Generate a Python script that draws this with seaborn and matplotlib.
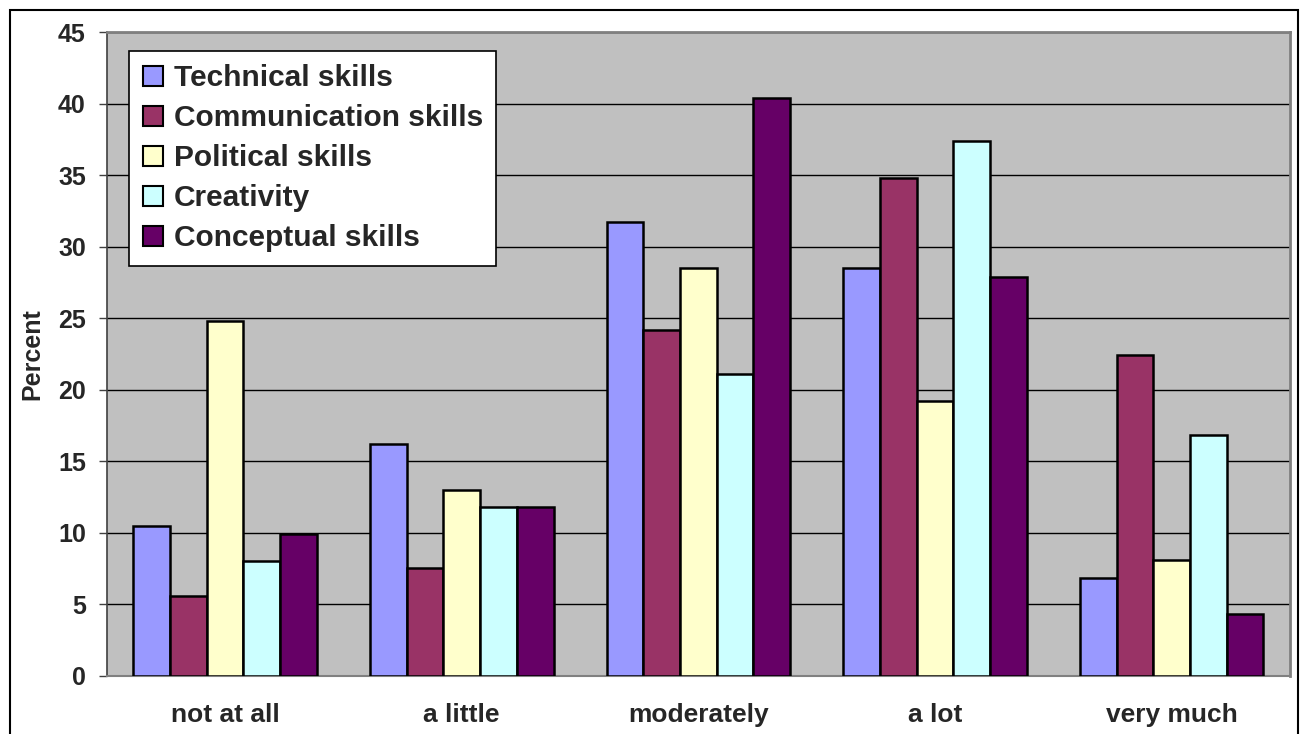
import numpy as np
import pandas as pd
import matplotlib
matplotlib.use("Agg")
import matplotlib.pyplot as plt
import matplotlib.patches as mpatches
import seaborn as sns

categories = ["not at all", "a little", "moderately", "a lot", "very much"]
skills = ["Technical skills", "Communication skills", "Political skills", "Creativity", "Conceptual skills"]
technical = [10.5, 16.2, 31.7, 28.5, 6.8]
communication = [5.6, 7.5, 24.2, 34.8, 22.4]
political = [24.8, 13.0, 28.5, 19.2, 8.1]
creativity = [8.0, 11.8, 21.1, 37.4, 16.8]
conceptual = [9.9, 11.8, 40.4, 27.9, 4.3]
colors = ["#9999FF", "#993366", "#FFFFCC", "#CCFFFF", "#660066"]
yticks = [0, 5, 10, 15, 20, 25, 30, 35, 40, 45]

series = [technical, communication, political, creativity, conceptual]
rows = []
for s, vals in zip(skills, series):
    for c, v in zip(categories, vals):
        rows.append({"category": c, "skill": s, "value": v})
df = pd.DataFrame(rows)

sns.set_theme(style="white")
plt.rcParams["font.family"] = ["Liberation Sans", "DejaVu Sans"]
plt.rcParams["font.weight"] = "bold"

W, H = 1303, 734
fig = plt.figure(figsize=(W / 100, H / 100), dpi=100)
fig.patch.set_facecolor("white")
ax = fig.add_axes([106.7 / W, (H - 675.7) / H, (1290 - 106.7) / W, (675.7 - 32.3) / H])
ax.set_facecolor("#C0C0C0")

sns.barplot(data=df, x="category", y="value", hue="skill", order=categories,
            hue_order=skills, palette=colors, edgecolor="black", linewidth=1.8,
            width=0.776, saturation=1, ax=ax, zorder=3, legend=True)

ax.set_xlim(-0.5, 4.5)
ax.set_ylim(0, 45)
ax.set_yticks(yticks)
ax.set_yticklabels([str(t) for t in yticks], fontsize=18, fontweight="bold")
ax.set_xticks(range(len(categories)))
ax.set_xticklabels(categories, fontsize=19, fontweight="bold")
ax.set_xticks(np.arange(-0.5, 5.0, 1.0), minor=True)
ax.tick_params(axis="x", which="major", length=0, pad=20)
ax.tick_params(axis="x", which="minor", length=6, width=1, color="#404040", direction="out")
ax.tick_params(axis="y", which="major", length=6, width=1, color="#404040", direction="out", pad=9, left=True)
ax.yaxis.grid(True, color="black", linewidth=1.0, zorder=0)
ax.set_axisbelow(True)
ax.set_xlabel("")
ax.set_ylabel("Percent", fontsize=18, fontweight="bold", labelpad=10)

for side in ["top", "right"]:
    ax.spines[side].set_visible(True)
    ax.spines[side].set_color("#808080")
    ax.spines[side].set_linewidth(2)
ax.spines["left"].set_color("#404040")
ax.spines["left"].set_linewidth(1.2)
ax.spines["bottom"].set_color("#808080")
ax.spines["bottom"].set_linewidth(1.5)

leg = ax.legend(loc="upper left", bbox_to_anchor=((129.3 - 106.7) / (1290 - 106.7), (675.7 - 51) / (675.7 - 32.3)),
                frameon=True, fancybox=False, edgecolor="black", facecolor="white", framealpha=1,
                prop={"family": "Liberation Sans", "weight": "bold", "size": 21.5},
                handlelength=0.67, handleheight=0.67, handletextpad=0.37, labelspacing=0.4,
                borderpad=0.45, borderaxespad=0)
leg.get_frame().set_linewidth(1.2)
leg.set_zorder(10)
for h in leg.legend_handles:
    h.set_edgecolor("black")
    h.set_linewidth(1.5)

frame = mpatches.Rectangle((10 / W, -0.05), (1298 - 10) / W, 1 - 10 / H + 0.05,
                           transform=fig.transFigure, fill=False, edgecolor="black",
                           linewidth=1.5, clip_on=False)
fig.add_artist(frame)

fig.savefig("out.png", dpi=100)
